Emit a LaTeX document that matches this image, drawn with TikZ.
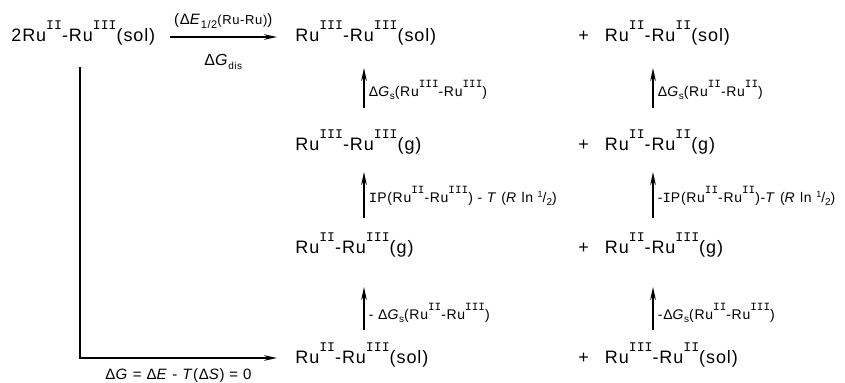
\documentclass[tikz,border=0pt]{standalone}
\usepackage{fontspec}
\setmainfont[LetterSpace=5]{Liberation Sans}
\newfontfamily\romfont{Liberation Mono}
\usetikzlibrary{positioning, arrows.meta, calc}
\newcommand{\bigsup}{\romfont\fontsize{6.6}{6}\selectfont}
\newcommand{\smallsup}{\romfont\fontsize{5.5}{5}\selectfont}
\let\supfont\bigsup
\newcommand{\Ru}[1]{Ru\raisebox{.66em}{\supfont #1}}
\newcommand{\Gsub}[1]{\textit{G}\raisebox{-.25em}{\fontsize{5}{5}\selectfont #1}}
\newcommand{\half}{\raisebox{.35em}{\fontsize{4.5}{4}\selectfont 1}/\raisebox{-.2em}{\fontsize{5}{5}\selectfont 2}}
\tikzset{
  species/.style={anchor=base west, inner sep=0pt, font=\fontsize{9}{10}\selectfont\let\supfont\bigsup},
  energy/.style={anchor=west, inner sep=0pt, font=\fontsize{7}{8}\selectfont\let\supfont\smallsup},
  arrow/.style={line width=0.9pt, -{Stealth[length=6.5pt,width=2.8pt]}}
}

\begin{document}
\begin{tikzpicture}[x=0.5pt, y=-0.5pt]
    \useasboundingbox (0,0) rectangle (845,382);

    \node (start) [species] at (11,41) {2\Ru{II}-\Ru{III}(sol)};
    \node (a1) [species] at (295,41) {\Ru{III}-\Ru{III}(sol)};
    \node (b1) [species] at (578,41) {+\hspace{8pt}\Ru{II}-\Ru{II}(sol)};
    \node (a2) [species] at (295,150) {\Ru{III}-\Ru{III}(g)};
    \node (b2) [species] at (578,150) {+\hspace{8pt}\Ru{II}-\Ru{II}(g)};
    \node (a3) [species] at (295,253) {\Ru{II}-\Ru{III}(g)};
    \node (b3) [species] at (578,253) {+\hspace{8pt}\Ru{II}-\Ru{III}(g)};
    \node (a4) [species] at (295,363) {\Ru{II}-\Ru{III}(sol)};
    \node (b4) [species] at (578,363) {+\hspace{8pt}\Ru{III}-\Ru{II}(sol)};

    \coordinate (c1) at (364,0);
    \coordinate (c2) at (653,0);
    \coordinate (corner) at (80,358);

    % disproportionation
    \draw [arrow] ($(start.base east)+(14,-4)$) -- ($(a1.base west)+(-18,-4)$)
        node [midway, above=4pt, inner sep=0pt, font=\fontsize{7.5}{8}\selectfont]
            {(Δ\textit{E}\raisebox{-.25em}{\fontsize{5.5}{5}\selectfont 1/2}{\fontsize{6.5}{7}\selectfont(Ru-Ru)})}
        node [midway, below=8pt, inner sep=0pt, font=\fontsize{8}{8}\selectfont] {Δ\Gsub{dis}};

    % cycle, left column
    \draw [arrow] ($(a2.base -| c1)+(0,-42)$) -- ($(a1.base -| c1)+(0,27)$)
        node [energy, pos=.45, xshift=2pt] {Δ\Gsub{s}(\Ru{III}-\Ru{III})};
    \draw [arrow] ($(a3.base -| c1)+(0,-35)$) -- ($(a2.base -| c1)+(0,22)$)
        node [energy, pos=.48, xshift=2pt] {{\romfont I}P(\Ru{II}-\Ru{III}) - \textit{T} (\textit{R} ln \half)};
    \draw [arrow] ($(a4.base -| c1)+(0,-33)$) -- ($(a3.base -| c1)+(0,34)$)
        node [energy, pos=.4, xshift=2pt] {- Δ\Gsub{s}(\Ru{II}-\Ru{III})};

    % cycle, right column
    \draw [arrow] ($(b2.base -| c2)+(0,-42)$) -- ($(b1.base -| c2)+(0,27)$)
        node [energy, pos=.45, xshift=2pt] {Δ\Gsub{s}(\Ru{II}-\Ru{II})};
    \draw [arrow] ($(b3.base -| c2)+(0,-35)$) -- ($(b2.base -| c2)+(0,22)$)
        node [energy, pos=.48, xshift=2pt] {-{\romfont I}P(\Ru{II}-\Ru{II})-\textit{T} (\textit{R} ln \half)};
    \draw [arrow] ($(b4.base -| c2)+(0,-33)$) -- ($(b3.base -| c2)+(0,34)$)
        node [energy, pos=.4, xshift=2pt] {-Δ\Gsub{s}(\Ru{II}-\Ru{III})};

    % overall
    \draw [arrow] ($(start.south -| corner)+(0,22)$) -- (corner)
        -- ($(corner -| a4.west)+(-18,0)$)
        node [midway, below=5pt, inner sep=0pt, font=\fontsize{7.5}{8}\selectfont]
            {Δ\textit{G} = Δ\textit{E} - \textit{T}(Δ\textit{S}) = 0};

\end{tikzpicture}
\end{document}
